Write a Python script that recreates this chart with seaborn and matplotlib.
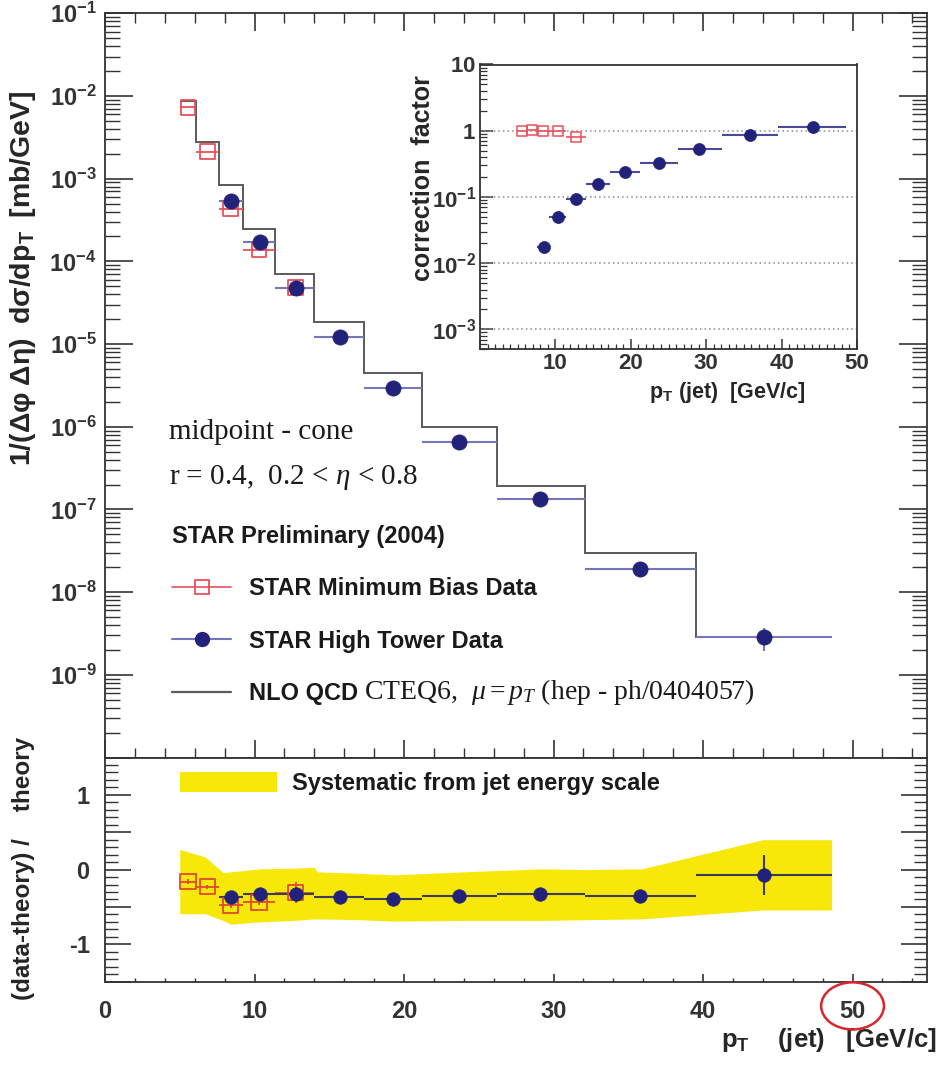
import numpy as np
import pandas as pd
import matplotlib
matplotlib.use("Agg")
import matplotlib.pyplot as plt
import seaborn as sns
from matplotlib.ticker import MultipleLocator, FixedLocator, LogLocator, NullFormatter, FuncFormatter
from matplotlib.lines import Line2D
from matplotlib.patches import Patch, Ellipse

# ---------------------------------------------------------------- data
# jet pT bins [GeV/c]
bin_edges = [5.0, 6.1, 7.6, 9.2, 11.4, 14.0, 17.3, 21.2, 26.2, 32.1, 39.5, 48.6]
# NLO QCD (CTEQ6, mu = pT) per bin [mb/GeV]
nlo_xsec = [8.8e-3, 2.8e-3, 8.5e-4, 2.47e-4, 7.0e-5, 1.85e-5, 4.5e-6, 1.0e-6,
            1.9e-7, 2.94e-8, 2.88e-9]

# minimum-bias sample (bins 1-5)
mb_pt = [5.55, 6.85, 8.4, 10.3, 12.75]
mb_xsec = [7.3e-3, 2.12e-3, 4.3e-4, 1.37e-4, 4.8e-5]
mb_corr = [1.0, 1.02, 1.0, 1.0, 0.80]
mb_ratio = [-0.16, -0.23, -0.48, -0.44, -0.31]
mb_ratio_err = [0.03, 0.03, 0.04, 0.04, 0.14]

# high-tower sample (bins 3-11)
ht_pt = [8.45, 10.35, 12.75, 15.7, 19.25, 23.7, 29.1, 35.8, 44.1]
ht_xsec = [5.4e-4, 1.7e-4, 4.7e-5, 1.22e-5, 2.96e-6, 6.6e-7, 1.32e-7, 1.88e-8, 2.83e-9]
ht_xsec_err = [2e-5, 6e-6, 3e-6, 5e-7, 1e-7, 3e-8, 6e-9, 1.2e-9, 0.9e-9]
ht_corr = [0.0178, 0.049, 0.093, 0.157, 0.235, 0.327, 0.53, 0.87, 1.14]
ht_ratio = [-0.36, -0.33, -0.32, -0.36, -0.39, -0.35, -0.33, -0.35, -0.07]
ht_ratio_err = [0.02, 0.02, 0.03, 0.02, 0.02, 0.02, 0.03, 0.04, 0.27]

# jet-energy-scale systematic band on (data-theory)/theory
syst_pt = [5.0, 6.7, 7.9, 8.4, 10.4, 12.6, 14.0, 14.2, 17.0, 19.3, 24.0, 29.2,
           32.2, 35.9, 44.0, 48.6]
syst_hi = [0.27, 0.17, -0.04, -0.03, 0.01, 0.02, 0.03, -0.03, -0.05, -0.07,
           -0.03, 0.01, 0.0, 0.01, 0.40, 0.40]
syst_lo = [-0.59, -0.59, -0.68, -0.73, -0.70, -0.68, -0.66, -0.66, -0.67, -0.69,
           -0.68, -0.68, -0.67, -0.66, -0.54, -0.54]

# ---------------------------------------------------------------- style
sns.set_theme(style="ticks")
plt.rcParams["font.family"] = ["Liberation Sans", "DejaVu Sans"]
plt.rcParams["font.weight"] = "bold"
plt.rcParams["axes.labelweight"] = "bold"
plt.rcParams["mathtext.fontset"] = "custom"
plt.rcParams["mathtext.rm"] = "Liberation Serif:weight=normal"
plt.rcParams["mathtext.it"] = "Liberation Serif:italic:weight=normal"
plt.rcParams["mathtext.bf"] = "Liberation Sans:bold"
plt.rcParams["axes.edgecolor"] = "#333333"
plt.rcParams["axes.linewidth"] = 1.3
plt.rcParams["xtick.color"] = "#333333"
plt.rcParams["ytick.color"] = "#333333"
plt.rcParams["text.color"] = "#1a1a1a"

NAVY = "#22227a"
LAVENDER = "#7676bb"
RED = "#e8505a"
NLO = "#5a5a5a"
YELLOW = "#f7e80a"
SERIF = ["Liberation Serif", "DejaVu Serif"]

edges = np.array(bin_edges)
mb_pt_a = np.array(mb_pt)
ht_pt_a = np.array(ht_pt)
mb_xerr = [mb_pt_a - edges[0:5], edges[1:6] - mb_pt_a]
ht_xerr = [ht_pt_a - edges[2:11], edges[3:12] - ht_pt_a]

mb_df = pd.DataFrame({"pt": mb_pt, "xsec": mb_xsec, "corr": mb_corr, "ratio": mb_ratio})
ht_df = pd.DataFrame({"pt": ht_pt, "xsec": ht_xsec, "corr": ht_corr, "ratio": ht_ratio})

W, H = 939, 1066
fig = plt.figure(figsize=(W / 100, H / 100), dpi=100)


def rect(x0, y0, x1, y1):
    return [x0 / W, 1 - y1 / H, (x1 - x0) / W, (y1 - y0) / H]


ax = fig.add_axes(rect(105, 13.3, 927.3, 757.5))
ax2 = fig.add_axes(rect(105, 757.5, 927.3, 981.7))
axi = fig.add_axes(rect(480, 64.5, 857, 349.3))

# ---------------------------------------------------------------- main panel
ax.set_yscale("log")
ax.stairs(nlo_xsec, bin_edges, baseline=None, color=NLO, lw=1.4, zorder=2)
ax.errorbar(mb_pt, mb_xsec, xerr=mb_xerr, fmt="none", ecolor=RED, elinewidth=1.3, zorder=3)
ax.errorbar(ht_pt, ht_xsec, xerr=ht_xerr, yerr=ht_xsec_err, fmt="none",
            ecolor=LAVENDER, elinewidth=1.5, zorder=3)
sns.scatterplot(data=mb_df, x="pt", y="xsec", ax=ax, marker="s", s=110,
                facecolor="none", edgecolor=RED, linewidth=1.3, zorder=4)
sns.scatterplot(data=ht_df, x="pt", y="xsec", ax=ax, marker="o", s=120,
                color=NAVY, edgecolor=NAVY, linewidth=0.5, zorder=5)

ax.set_xlim(0, 55)
ax.set_ylim(1e-10, 1e-1)
ax.set_xlabel("")
ax.set_ylabel(r"$\mathbf{1/(\Delta\varphi\ \Delta\eta)\ \ d\sigma/dp_T\ \ [mb/GeV]}$",
              fontsize=20.5)
ax.yaxis.set_label_coords(-0.0997, 0.644)
ax.yaxis.label.set_va("center")
ax.xaxis.set_major_locator(MultipleLocator(10))
ax.xaxis.set_minor_locator(MultipleLocator(2))
ax.yaxis.set_major_locator(FixedLocator([10.0 ** k for k in range(-9, 0)]))
ax.yaxis.set_minor_locator(LogLocator(base=10, subs=np.arange(2, 10), numticks=20))
ax.yaxis.set_minor_formatter(NullFormatter())
ax.yaxis.set_major_formatter(FuncFormatter(
    lambda v, p: r"$\mathbf{10^{%d}}$" % int(round(np.log10(v)))))
ax.tick_params(axis="y", which="major", direction="in", length=20, width=1.2,
               left=True, right=True, labelsize=17, pad=6)
ax.tick_params(axis="y", which="minor", direction="in", length=11, width=1.0,
               left=True, right=True)
ax.tick_params(axis="x", which="major", direction="in", length=13, width=1.2,
               top=True, bottom=True, labelbottom=False)
ax.tick_params(axis="x", which="minor", direction="in", length=7, width=1.0,
               top=True, bottom=True)

ax.text(0.0784, 0.4378, "midpoint - cone", transform=ax.transAxes, va="center",
        ha="left", fontsize=21, fontweight="normal", family=SERIF)
ax.text(0.0784, 0.3756, r"r = 0.4,  0.2 < $\eta$ < 0.8", transform=ax.transAxes,
        va="center", ha="left", fontsize=21, fontweight="normal", family=SERIF)

handles = [
    Line2D([], [], color=RED, lw=1.2, marker="s", ms=10, mfc="none", mec=RED, mew=1.3),
    Line2D([], [], color=LAVENDER, lw=1.5, marker="o", ms=10, mfc=NAVY, mec=NAVY),
    Line2D([], [], color=NLO, lw=1.6),
]
labels = ["STAR Minimum Bias Data", "STAR High Tower Data", "NLO QCD"]
leg = ax.legend(handles, labels, title="STAR Preliminary (2004)", loc="upper left",
                bbox_to_anchor=(0.0815, 0.313), frameon=False,
                prop={"family": "Liberation Sans", "weight": "bold", "size": 17},
                title_fontproperties={"family": "Liberation Sans", "weight": "bold",
                                      "size": 17},
                alignment="left", handlelength=2.5, handletextpad=0.75,
                labelspacing=1.25, borderpad=0, borderaxespad=0)
# theory reference written after the NLO QCD legend entry
ax.text(0.3155, 0.0885, r"CTEQ6,  $\mu = p_T$ (hep - ph/0404057)",
        transform=ax.transAxes, va="center", ha="left", fontsize=20,
        fontweight="normal", family=SERIF)

# ---------------------------------------------------------------- inset
axi.set_yscale("log")
for g in [1e-3, 1e-2, 1e-1, 1.0, 10.0]:
    axi.axhline(g, color="#8a8a8a", lw=1.1, ls=(0, (1, 2)), zorder=1)
axi.errorbar(mb_pt, mb_corr, xerr=mb_xerr, fmt="none", ecolor=RED, elinewidth=1.2, zorder=3)
axi.errorbar(ht_pt, ht_corr, xerr=ht_xerr, fmt="none", ecolor="#4a4a98",
             elinewidth=1.5, zorder=3)
sns.scatterplot(data=mb_df, x="pt", y="corr", ax=axi, marker="s", s=50,
                facecolor="none", edgecolor=RED, linewidth=1.1, zorder=4)
sns.scatterplot(data=ht_df, x="pt", y="corr", ax=axi, marker="o", s=75,
                color=NAVY, edgecolor=NAVY, linewidth=0.5, zorder=5)
axi.set_xlim(0, 50)
axi.set_ylim(5e-4, 10)
axi.xaxis.set_major_locator(MultipleLocator(10))
axi.xaxis.set_minor_locator(MultipleLocator(1))
axi.yaxis.set_major_locator(FixedLocator([1e-3, 1e-2, 1e-1, 1.0, 10.0]))
axi.yaxis.set_minor_locator(LogLocator(base=10, subs=np.arange(2, 10), numticks=20))
axi.yaxis.set_minor_formatter(NullFormatter())


def corr_label(v, p):
    k = int(round(np.log10(v)))
    if k >= 0:
        return r"$\mathbf{%d}$" % int(round(v))
    return r"$\mathbf{10^{%d}}$" % k


axi.yaxis.set_major_formatter(FuncFormatter(corr_label))
axi.xaxis.set_major_formatter(FuncFormatter(lambda v, p: "" if v == 0 else "%d" % v))
axi.tick_params(axis="y", which="major", direction="in", length=9, width=1.1,
                left=True, right=False, labelsize=16, pad=3)
axi.tick_params(axis="y", which="minor", direction="in", length=5, width=0.9,
                left=True, right=False)
axi.tick_params(axis="x", which="major", direction="in", length=7, width=1.1,
                bottom=True, top=False, labelsize=16, pad=3)
axi.tick_params(axis="x", which="minor", direction="in", length=3.5, width=0.9,
                bottom=True, top=False)
axi.set_xlabel(r"$\mathbf{p_T}$ (jet)  [GeV/c]", fontsize=15.5, fontweight="bold")
axi.xaxis.set_label_coords(0.655, -0.153)
axi.xaxis.label.set_va("center")
axi.set_ylabel("correction  factor", fontsize=18, fontweight="bold")
axi.yaxis.set_label_coords(-0.151, 0.601)
axi.yaxis.label.set_va("center")
axi.set_facecolor("white")

# ---------------------------------------------------------------- ratio panel
ax2.fill_between(syst_pt, syst_lo, syst_hi, color=YELLOW, lw=0, zorder=1)
ax2.errorbar(mb_pt, mb_ratio, xerr=mb_xerr, yerr=mb_ratio_err, fmt="none",
             ecolor="#e04a2a", elinewidth=1.3, zorder=3)
ax2.errorbar(ht_pt, ht_ratio, xerr=ht_xerr, yerr=ht_ratio_err, fmt="none",
             ecolor="#3c3c58", elinewidth=1.5, zorder=3)
sns.scatterplot(data=mb_df, x="pt", y="ratio", ax=ax2, marker="s", s=120,
                facecolor="none", edgecolor="#e04a2a", linewidth=1.3, zorder=4)
sns.scatterplot(data=ht_df, x="pt", y="ratio", ax=ax2, marker="o", s=95,
                color=NAVY, edgecolor=NAVY, linewidth=0.5, zorder=5)
ax2.set_xlim(0, 55)
ax2.set_ylim(-1.5, 1.5)
ax2.xaxis.set_major_locator(MultipleLocator(10))
ax2.xaxis.set_minor_locator(MultipleLocator(2))
ax2.yaxis.set_major_locator(MultipleLocator(0.5))
ax2.yaxis.set_minor_locator(MultipleLocator(0.1))
ax2.yaxis.set_major_formatter(FuncFormatter(
    lambda v, p: "%d" % round(v) if abs(v - round(v)) < 1e-6 else ""))
ax2.xaxis.set_major_formatter(FuncFormatter(lambda v, p: "%d" % round(v)))
ax2.tick_params(axis="y", which="major", direction="in", length=19, width=1.2,
                left=True, right=True, labelsize=17, pad=11)
ax2.tick_params(axis="y", which="minor", direction="in", length=9.5, width=1.0,
                left=True, right=True)
ax2.tick_params(axis="x", which="major", direction="in", length=6, width=1.2,
                bottom=True, top=False, labelsize=17, pad=13)
ax2.tick_params(axis="x", which="minor", direction="in", length=3, width=1.0,
                bottom=True, top=False)
ax2.set_ylabel("(data-theory) /    theory", fontsize=17.5, fontweight="bold")
ax2.yaxis.set_label_coords(-0.0997, 0.507)
ax2.yaxis.label.set_va("center")
ax2.set_xlabel(r"$\mathbf{p_T}$    (jet)   [GeV/c]", fontsize=18.5, fontweight="bold")
ax2.xaxis.set_label_coords(1.0118, -0.26)
ax2.xaxis.label.set_ha("right")
ax2.xaxis.label.set_va("center")

ax2.legend([Patch(facecolor=YELLOW, edgecolor="none")], ["Systematic from jet energy scale"],
           loc="upper left", bbox_to_anchor=(0.0912, 0.935), frameon=False,
           prop={"family": "Liberation Sans", "weight": "bold", "size": 17},
           handlelength=4.1, handleheight=0.95, handletextpad=0.65,
           borderpad=0, borderaxespad=0)

# highlight the 50 GeV/c tick label
ax2.add_patch(Ellipse((50, -0.108), width=4.2, height=0.21,
                      transform=ax2.get_xaxis_transform(), fill=False,
                      edgecolor="#d9262b", lw=1.8, clip_on=False, zorder=10))

fig.savefig("out.png", dpi=100)
